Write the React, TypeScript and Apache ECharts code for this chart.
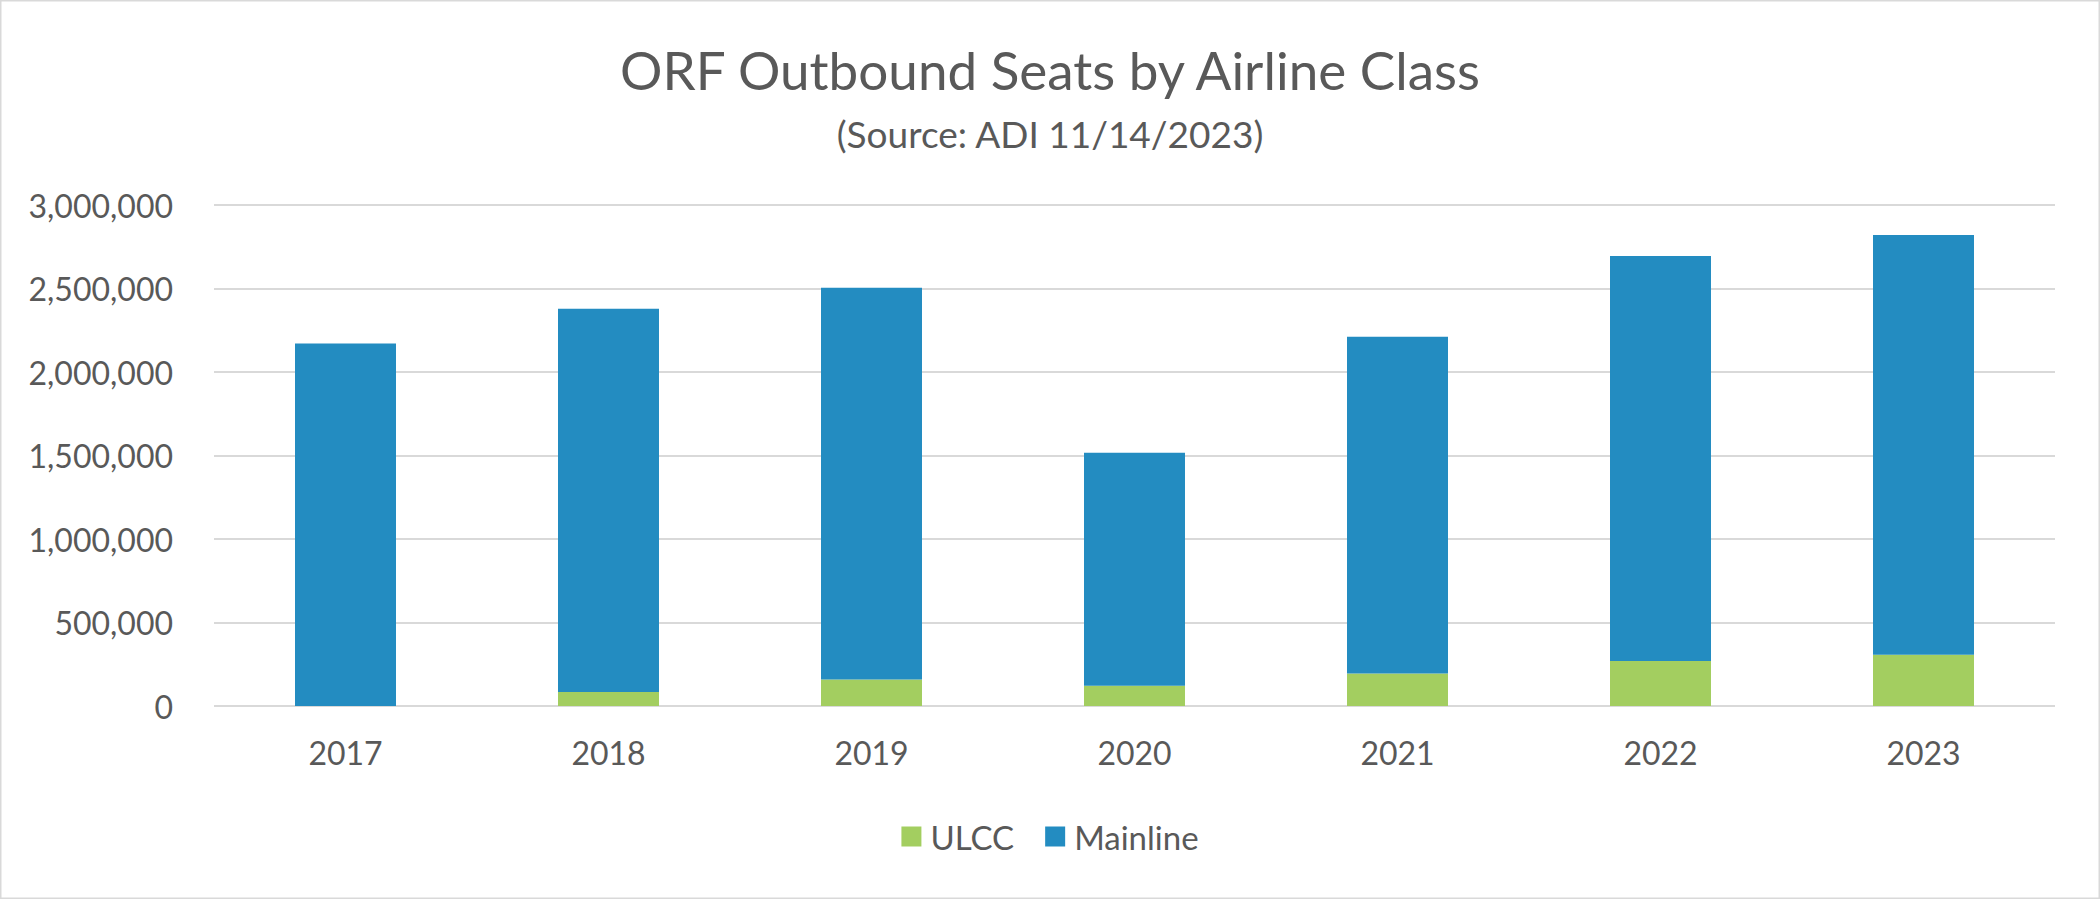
import React, { useEffect, useRef } from "react";
import * as echarts from "echarts";

const categories = ["2017", "2018", "2019", "2020", "2021", "2022", "2023"];
const ulccSeats = [0, 84000, 159000, 122000, 194000, 270000, 307000];
const mainlineSeats = [2170000, 2294000, 2345000, 1394000, 2017000, 2425000, 2514000];
const titleText = "ORF Outbound Seats by Airline Class";
const subtitleText = "(Source: ADI 11/14/2023)";

const FONT = "Lato, 'Open Sans', sans-serif";
const TEXT_COLOR = "#595959";
const GRID_COLOR = "#d9d9d9";

export default function App() {
  const ref = useRef<HTMLDivElement>(null);

  useEffect(() => {
    document.body.style.margin = "0";
    if (!ref.current) return;
    const chart = echarts.init(ref.current, null, { renderer: "svg" });
    chart.setOption({
      animation: false,
      backgroundColor: "#ffffff",
      textStyle: { fontFamily: FONT, color: TEXT_COLOR },
      title: [
        {
          text: titleText,
          left: "center",
          top: 35,
          textStyle: { fontFamily: FONT, fontSize: 53, fontWeight: "normal", color: TEXT_COLOR, lineHeight: 58 },
        },
        {
          text: subtitleText,
          left: "center",
          top: 107,
          textStyle: { fontFamily: FONT, fontSize: 37, fontWeight: "normal", color: TEXT_COLOR, lineHeight: 42 },
        },
      ],
      legend: {
        data: ["ULCC", "Mainline"],
        left: "center",
        top: 815,
        icon: "rect",
        itemWidth: 20,
        itemHeight: 20,
        itemGap: 31,
        textStyle: { fontFamily: FONT, fontSize: 33, color: TEXT_COLOR, padding: [0, 0, 0, 4] },
      },
      grid: { left: 214, right: 45, top: 205, bottom: 193 },
      xAxis: {
        type: "category",
        data: categories,
        axisLine: { show: false },
        axisTick: { show: false },
        axisLabel: { fontFamily: FONT, fontSize: 32, color: TEXT_COLOR, margin: 30 },
      },
      yAxis: {
        type: "value",
        min: 0,
        max: 3000000,
        interval: 500000,
        axisLine: { show: false },
        axisTick: { show: false },
        axisLabel: {
          fontFamily: FONT,
          fontSize: 32,
          color: TEXT_COLOR,
          margin: 41,
          formatter: (v: number) => v.toLocaleString("en-US"),
        },
        splitLine: { lineStyle: { color: GRID_COLOR, width: 2 } },
      },
      series: [
        {
          name: "ULCC",
          type: "bar",
          stack: "seats",
          data: ulccSeats,
          barWidth: "38.4%",
          itemStyle: { color: "#A3CE60" },
        },
        {
          name: "Mainline",
          type: "bar",
          stack: "seats",
          data: mainlineSeats,
          barWidth: "38.4%",
          itemStyle: { color: "#238CC1" },
        },
      ],
      graphic: [
        {
          type: "rect",
          shape: { x: 0.75, y: 0.75, width: 2098.5, height: 897.5 },
          style: { fill: "none", stroke: GRID_COLOR, lineWidth: 1.5 },
          silent: true,
        },
      ],
    });
    return () => chart.dispose();
  }, []);

  return <div ref={ref} style={{ width: 2100, height: 899 }} />;
}
